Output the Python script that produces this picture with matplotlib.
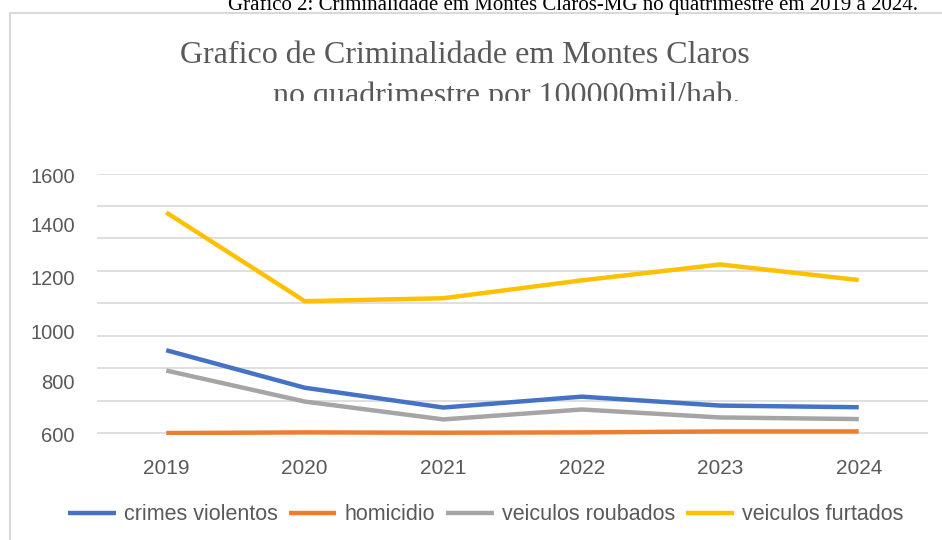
import matplotlib.pyplot as plt
from matplotlib.patches import Rectangle
from matplotlib.lines import Line2D

# dados
anos = ['2019', '2020', '2021', '2022', '2023', '2024']
crimes_violentos = [512, 281, 159, 226, 171, 161]
homicidio = [2, 6, 4, 6, 12, 12]
veiculos_roubados = [387, 196, 86, 147, 98, 88]
veiculos_furtados = [1360, 814, 832, 942, 1040, 944]

# rotulos do eixo y (como aparecem na imagem)
ytick_labels = ['600', '800', '1000', '1200', '1400', '1600']
ytick_pos = [-10, 318, 630, 960, 1285, 1585]

W, H = 942, 540
fig = plt.figure(figsize=(W / 100, H / 100), dpi=100)
fig.patch.set_facecolor('white')

ax = fig.add_axes([97 / W, 1 - 435 / H, (928 - 97) / W, (435 - 173.5) / H])
x = range(len(anos))
ax.plot(x, crimes_violentos, color='#4472C4', lw=3.2, label='crimes violentos', solid_capstyle='butt')
ax.plot(x, homicidio, color='#ED7D31', lw=3.2, label='homicidio', solid_capstyle='butt')
ax.plot(x, veiculos_roubados, color='#A5A5A5', lw=3.2, label='veiculos roubados', solid_capstyle='butt')
ax.plot(x, veiculos_furtados, color='#FFC000', lw=3.2, label='veiculos furtados', solid_capstyle='butt')

ax.set_xlim(-0.5, len(anos) - 0.5)
ax.set_ylim(0, 1600)
for g in range(0, 1601, 200):
    ax.axhline(g, color='#d9d9d9', lw=1.2, zorder=0)
for s in ax.spines.values():
    s.set_visible(False)
ax.set_xticks(list(x))
ax.set_xticklabels(anos)
ax.set_yticks(ytick_pos)
ax.set_yticklabels(ytick_labels)
ax.tick_params(length=0, labelcolor='#595959')
ax.tick_params(axis='x', labelsize=15, pad=17)
ax.tick_params(axis='y', labelsize=14.5, pad=16)
for t in ax.get_xticklabels() + ax.get_yticklabels():
    t.set_family('Liberation Sans')

# titulos
fig.text(465 / W, 1 - 63 / H, 'Grafico de Criminalidade em Montes Claros',
         ha='center', va='baseline', fontsize=23, color='#595959', family='Liberation Serif')
fig.text(507 / W, 1 - 104 / H, 'no quadrimestre por 100000mil/hab.',
         ha='center', va='baseline', fontsize=23, color='#595959', family='Liberation Serif')
fig.patches.append(Rectangle((0.012, 1 - 128 / H), 0.98, 27 / H, transform=fig.transFigure,
                             facecolor='white', edgecolor='none', zorder=5))

fig.text(573 / W, 1 - 10 / H, 'Grafico 2: Criminalidade em Montes Claros-MG no quatrimestre em 2019 a 2024.',
         ha='center', va='baseline', fontsize=15, color='black', family='Liberation Serif')

# borda do grafico
fig.add_artist(Line2D([10 / W, 10 / W], [0, 1 - 13 / H], transform=fig.transFigure, color='#d9d9d9', lw=1.5))
fig.add_artist(Line2D([10 / W, 1], [1 - 13 / H, 1 - 13 / H], transform=fig.transFigure, color='#d9d9d9', lw=1.5))

leg = fig.legend(loc='center', bbox_to_anchor=(486 / W, 1 - 515 / H), ncol=4, frameon=False,
                 handlelength=2.2, handletextpad=0.4, columnspacing=0.5,
                 prop={'family': 'Liberation Sans', 'size': 15.5})
for t in leg.get_texts():
    t.set_color('#595959')

fig.savefig('out.png', dpi=100)
